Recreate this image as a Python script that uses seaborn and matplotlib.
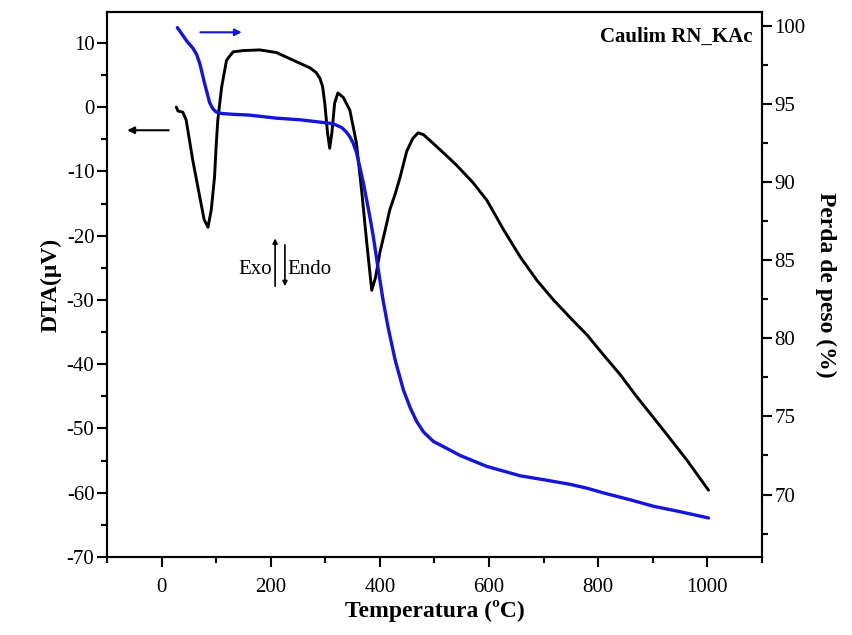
import matplotlib
matplotlib.use("Agg")
import matplotlib.pyplot as plt
import seaborn as sns
import pandas as pd

# DTA curve (black), temperature in °C, DTA in µV
dta_temp = [27, 30, 39, 45, 57, 70, 78, 85, 91, 97, 100, 103, 110, 119, 131, 150, 180, 210, 241, 272,
            283, 290, 295, 299, 304, 308, 312, 317, 323, 333, 345, 357, 367, 376, 385, 392, 400, 410,
            418, 428, 437, 449, 460, 470, 480, 497, 520, 540, 570, 596, 626, 657, 688, 718, 749, 779,
            810, 840, 870, 901, 930, 963, 985, 1002]
dta_val = [0.0, -0.6, -0.8, -2.0, -8.2, -14.0, -17.5, -18.7, -16.0, -10.9, -6.0, -2.0, 3.1, 7.3, 8.6, 8.8,
           8.9, 8.5, 7.3, 6.1, 5.4, 4.5, 3.2, 0.6, -4.0, -6.4, -4.0, 0.6, 2.2, 1.5, -0.5, -5.6, -13.4,
           -21.2, -28.5, -26.5, -22.6, -19.0, -16.0, -13.5, -10.9, -6.9, -4.9, -4.0, -4.3, -5.6, -7.4,
           -9.0, -11.7, -14.5, -19.0, -23.3, -27.0, -30.0, -32.8, -35.4, -38.6, -41.6, -45.0, -48.3,
           -51.4, -55.0, -57.6, -59.6]

# TG curve (blue), weight in %
tg_temp = [29, 33, 39, 47, 57, 64, 70, 79, 88, 94, 100, 110, 130, 160, 211, 253, 290, 314, 330, 339,
           345, 351, 357, 363, 370, 376, 382, 388, 397, 406, 415, 428, 443, 455, 467, 480, 498, 520,
           547, 596, 657, 700, 749, 780, 810, 860, 901, 950, 1002]
tg_val = [99.9, 99.7, 99.4, 99.0, 98.6, 98.2, 97.6, 96.3, 95.1, 94.7, 94.5, 94.4, 94.35, 94.3, 94.1, 94.0,
          93.85, 93.75, 93.5, 93.2, 92.9, 92.5, 91.9, 91.0, 89.9, 88.8, 87.7, 86.5, 84.4, 82.4, 80.7,
          78.6, 76.7, 75.6, 74.7, 74.0, 73.4, 73.0, 72.5, 71.8, 71.2, 70.95, 70.65, 70.4, 70.1, 69.65,
          69.25, 68.9, 68.5]

xticks = [0, 200, 400, 600, 800, 1000]
left_ticks = [-70, -60, -50, -40, -30, -20, -10, 0, 10]
right_ticks = [70, 75, 80, 85, 90, 95, 100]

sns.set_style("ticks")
plt.rcParams['font.family'] = ['Liberation Serif', 'DejaVu Serif']
plt.rcParams['axes.unicode_minus'] = False
plt.rcParams['text.color'] = 'black'
plt.rcParams['axes.labelcolor'] = 'black'
plt.rcParams['xtick.color'] = 'black'
plt.rcParams['ytick.color'] = 'black'

fig = plt.figure(figsize=(8.53, 6.35), dpi=100)
ax = fig.add_axes([107/853, 1 - 557/635, (762-107)/853, (557-12)/635])

df1 = pd.DataFrame({"T": dta_temp, "DTA": dta_val})
df2 = pd.DataFrame({"T": tg_temp, "TG": tg_val})

sns.lineplot(data=df1, x="T", y="DTA", ax=ax, color="black", linewidth=2.1, sort=False)
ax2 = ax.twinx()
sns.lineplot(data=df2, x="T", y="TG", ax=ax2, color="#1414dc", linewidth=2.4, sort=False)

ax.set_xlim(-100, 1100)
ax.set_ylim(-70, 14.8)
ax2.set_ylim(66, 100.9)

ax.set_xticks(xticks)
ax.set_xticks([-100, 100, 300, 500, 700, 900, 1100], minor=True)
ax.set_yticks(left_ticks)
ax.set_yticks([-65, -55, -45, -35, -25, -15, -5, 5], minor=True)
ax2.set_yticks(right_ticks)
ax2.set_yticks([67.5, 72.5, 77.5, 82.5, 87.5, 92.5, 97.5], minor=True)

for a in (ax, ax2):
    for s in a.spines.values():
        s.set_linewidth(1.5)
        s.set_color("black")
    a.tick_params(which="major", direction="out", length=7, width=1.5, labelsize=15,
                  colors="black", labelcolor="black")
    a.tick_params(which="minor", direction="out", length=4, width=1.5)
ax.tick_params(axis="x", pad=8)
ax.tick_params(axis="y", pad=2)
ax2.tick_params(axis="y", pad=2)

ax.set_xlabel("Temperatura (ºC)", fontsize=17, fontweight="bold", labelpad=2, color="black")
ax.set_ylabel("DTA(μV)", fontsize=17, fontweight="bold", labelpad=4, color="black")
ax2.set_ylabel("Perda de peso (%)", fontsize=17, fontweight="bold", rotation=-90, labelpad=22,
               color="black")

ax.text(0.985, 0.955, "Caulim RN_KAc", transform=ax.transAxes, ha="right", va="center",
        fontsize=15, fontweight="bold", color="black")

# direction arrows
ax.annotate("", xy=(-68, -3.6), xytext=(18, -3.6),
            arrowprops=dict(arrowstyle="-|>", color="black", lw=1.5, mutation_scale=10))
ax2.annotate("", xy=(152, 99.6), xytext=(66, 99.6),
             arrowprops=dict(arrowstyle="-|>", color="#1414dc", lw=1.5, mutation_scale=10))

# Exo / Endo
ax.text(202, -25.3, "Exo", ha="right", va="center", fontsize=15, color="black")
ax.annotate("", xy=(208, -20.0), xytext=(208, -28.3),
            arrowprops=dict(arrowstyle="-|>", color="black", lw=1.2, mutation_scale=7))
ax.annotate("", xy=(226, -28.3), xytext=(226, -21.0),
            arrowprops=dict(arrowstyle="-|>", color="black", lw=1.2, mutation_scale=7))
ax.text(230, -25.3, "Endo", ha="left", va="center", fontsize=15, color="black")

fig.savefig("out.png", dpi=100)
